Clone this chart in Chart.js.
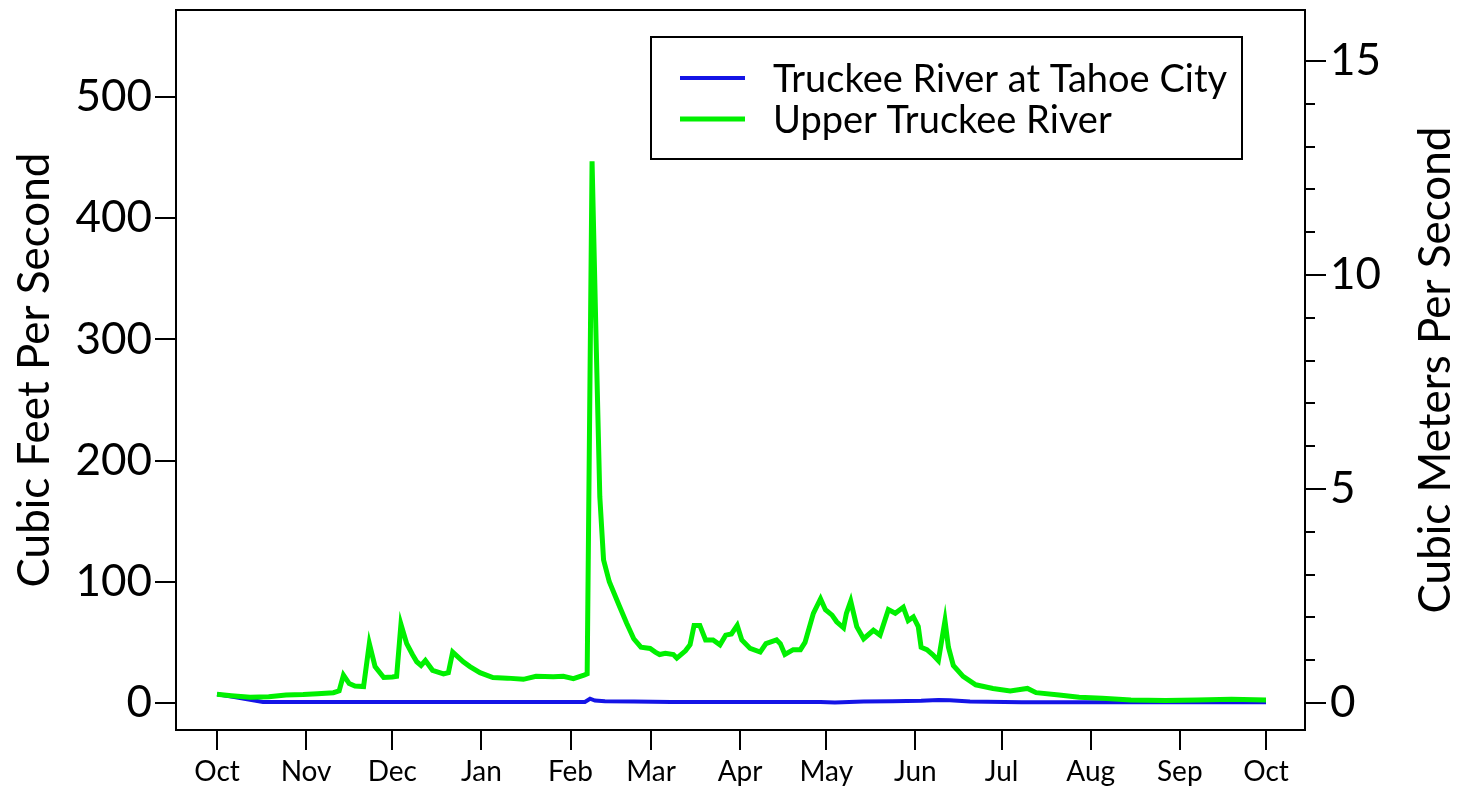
<!DOCTYPE html>
<html>
<head>
<meta charset="utf-8">
<title>Truckee River discharge</title>
<script src="https://cdn.jsdelivr.net/npm/chart.js@4.4.1/dist/chart.umd.min.js"></script>
<style>
  html, body { margin: 0; padding: 0; background: #fff; }
  #wrap { width: 1459px; height: 789px; }
</style>
</head>
<body>
<div id="wrap"><canvas id="flowChart"></canvas></div>
<script>
// water year: day 0 = Oct 1
const monthStarts = [0, 31, 61, 92, 123, 151, 182, 212, 243, 273, 304, 335, 365];
const monthLabels = ['Oct', 'Nov', 'Dec', 'Jan', 'Feb', 'Mar', 'Apr', 'May', 'Jun', 'Jul', 'Aug', 'Sep', 'Oct'];
const cfsTicks = [0, 100, 200, 300, 400, 500];
const cmsTicks = [0, 1, 2, 3, 4, 5, 6, 7, 8, 9, 10, 11, 12, 13, 14, 15];
const cmsLabelled = [0, 5, 10, 15];
const CFS_PER_CMS = 35.3147;

const tahoeCityDays = [0, 6, 12, 16, 60, 100, 128, 129.8, 131.5, 135, 145, 158, 190, 210, 215, 225, 235, 245, 251, 255, 262, 280, 320, 365];
const tahoeCityCfs  = [7.2, 5, 2.5, 0.8, 0.8, 0.8, 0.8, 3.5, 2, 1.5, 1.2, 0.8, 0.8, 0.8, 0.4, 1.2, 1.5, 1.8, 2.5, 2.2, 1.2, 0.7, 0.6, 0.6];

const upperTruckeeDays = [
  0, 5, 11.5, 18, 24, 30, 35, 40.5, 42.5, 44, 46, 48, 51, 53, 55, 58, 61, 62.5, 64, 66,
  68, 69.5, 71, 72.5, 75, 78.8, 80.5, 82, 85.7, 88, 91.5, 96, 101, 106.6, 111, 117, 120.5, 124, 127.7, 128.8,
  130.5, 132, 133.2, 134.5, 136.5, 140, 142.5, 145, 147.5, 150.7, 152.5, 154, 156, 158.8, 160, 163, 164.6, 166, 168, 170,
  172.6, 175, 177, 179, 181, 182.6, 185.5, 189, 191, 194.7, 196, 197.6, 200.5, 203, 204.6, 207.5, 210, 211.7, 214, 215.6,
  218, 219, 220.5, 222.6, 225, 228.4, 230.7, 233.6, 236, 238.8, 240.5, 242.3, 244, 245, 247, 249, 251, 253.3, 254.5, 256.2,
  259.6, 264, 270, 276, 280, 282, 285, 293, 300, 308, 318, 330, 341, 353, 365
];
const upperTruckeeCfs = [
  7.2, 6, 4.7, 5.2, 6.6, 7, 7.6, 8.5, 10, 23, 16, 14, 13.5, 49, 30, 21, 21.5, 22, 65, 49,
  40, 34, 31, 35, 27, 24, 25, 42, 34, 30, 25, 21, 20.5, 19.5, 22, 21.7, 22, 20, 23, 24,
  447, 290, 170, 118, 100, 80, 66, 53, 46, 45, 42, 40, 41, 40, 37, 43, 48, 64, 64, 52,
  52, 48, 56, 57, 64, 52, 45, 42, 49, 52, 49, 40, 44, 44, 50, 74, 86, 77, 72.5, 67,
  62, 74, 84, 63, 53, 60, 56, 77, 74, 79, 68, 71, 63, 46, 44, 40, 35, 68, 46, 31,
  22, 15, 12, 10, 11.3, 12, 8.5, 6.6, 4.7, 3.9, 2.5, 2, 2.5, 3, 2.5
];

const FONT = 'Lato, "DejaVu Sans", sans-serif';
const cfsMin = -22.3, cfsMax = 571.8;

Chart.defaults.color = '#000';
Chart.defaults.font.family = FONT;

const toPoints = (xs, ys) => xs.map((x, i) => ({ x: x, y: ys[i] }));

// keep the plot box fixed: no extra room for label overhang
const fixWidth = w => s => { s.width = w; s.paddingTop = 0; s.paddingBottom = 0; };

// frame, long ticks on the metric axis, its title, and the legend box
const decorations = {
  id: 'decorations',
  afterDraw(chart) {
    const ctx = chart.ctx;
    const area = chart.chartArea;
    const y2 = chart.scales.y2;
    ctx.save();
    ctx.strokeStyle = '#000';
    ctx.lineWidth = 2;
    ctx.strokeRect(area.left, area.top, area.right - area.left, area.bottom - area.top);

    cmsLabelled.forEach(v => {
      const py = y2.getPixelForValue(v);
      ctx.beginPath();
      ctx.moveTo(area.right, py);
      ctx.lineTo(area.right + 21, py);
      ctx.stroke();
    });

    ctx.fillStyle = '#000';
    ctx.font = '44px ' + FONT;
    ctx.textAlign = 'center';
    ctx.textBaseline = 'middle';
    ctx.translate(1436, (area.top + area.bottom) / 2);
    ctx.rotate(-Math.PI / 2);
    ctx.fillText('Cubic Meters Per Second', 0, 0);
    ctx.restore();

    ctx.save();
    ctx.fillStyle = '#fff';
    ctx.fillRect(651, 37, 591, 122);
    ctx.strokeStyle = '#000';
    ctx.lineWidth = 2;
    ctx.strokeRect(651, 37, 591, 122);
    ctx.font = '38px ' + FONT;
    ctx.textAlign = 'left';
    ctx.textBaseline = 'alphabetic';
    chart.data.datasets.forEach((ds, i) => {
      const rowY = 78 + i * 41;
      ctx.strokeStyle = ds.borderColor;
      ctx.lineWidth = ds.borderWidth;
      ctx.beginPath();
      ctx.moveTo(680, rowY);
      ctx.lineTo(745, rowY);
      ctx.stroke();
      ctx.fillStyle = '#000';
      ctx.fillText(ds.label, 773, rowY + 14);
    });
    ctx.restore();
  }
};

new Chart(document.getElementById('flowChart'), {
  type: 'line',
  data: {
    datasets: [
      {
        label: 'Truckee River at Tahoe City',
        data: toPoints(tahoeCityDays, tahoeCityCfs),
        borderColor: '#1414e6',
        borderWidth: 4,
        pointRadius: 0,
        tension: 0,
        order: 1,
        yAxisID: 'y'
      },
      {
        label: 'Upper Truckee River',
        data: toPoints(upperTruckeeDays, upperTruckeeCfs),
        borderColor: '#00f000',
        borderWidth: 5,
        pointRadius: 0,
        tension: 0,
        order: 0,
        yAxisID: 'y'
      }
    ]
  },
  options: {
    responsive: true,
    maintainAspectRatio: false,
    animation: false,
    layout: { padding: { top: 10, left: 0, right: 0, bottom: 0 } },
    plugins: {
      legend: { display: false },
      tooltip: { enabled: false }
    },
    scales: {
      x: {
        type: 'linear',
        min: -14.27,
        max: 378.57,
        afterBuildTicks: s => { s.ticks = monthStarts.map(v => ({ value: v })); },
        afterFit: s => { s.height = 59; s.paddingLeft = 0; s.paddingRight = 0; },
        border: { display: false },
        grid: { drawOnChartArea: false, drawTicks: true, tickLength: 20, color: '#000', lineWidth: 2 },
        ticks: {
          font: { size: 28 },
          padding: 5,
          maxRotation: 0,
          autoSkip: false,
          callback: (v, i) => monthLabels[i]
        }
      },
      y: {
        position: 'left',
        min: cfsMin,
        max: cfsMax,
        afterBuildTicks: s => { s.ticks = cfsTicks.map(v => ({ value: v })); },
        afterFit: fixWidth(176),
        border: { display: false },
        grid: { drawOnChartArea: false, drawTicks: true, tickLength: 21, color: '#000', lineWidth: 2 },
        ticks: { font: { size: 44 }, padding: 3, autoSkip: false },
        title: {
          display: true,
          text: 'Cubic Feet Per Second',
          font: { size: 44 },
          padding: { top: 8, bottom: 0 }
        }
      },
      y2: {
        position: 'right',
        min: cfsMin / CFS_PER_CMS,
        max: cfsMax / CFS_PER_CMS,
        afterBuildTicks: s => { s.ticks = cmsTicks.map(v => ({ value: v })); },
        afterFit: fixWidth(154),
        border: { display: false },
        grid: { drawOnChartArea: false, drawTicks: true, tickLength: 10, color: '#000', lineWidth: 2 },
        ticks: {
          font: { size: 44 },
          padding: 15,
          autoSkip: false,
          callback: v => (cmsLabelled.includes(v) ? String(v) : '')
        }
      }
    }
  },
  plugins: [decorations]
});
</script>
</body>
</html>
